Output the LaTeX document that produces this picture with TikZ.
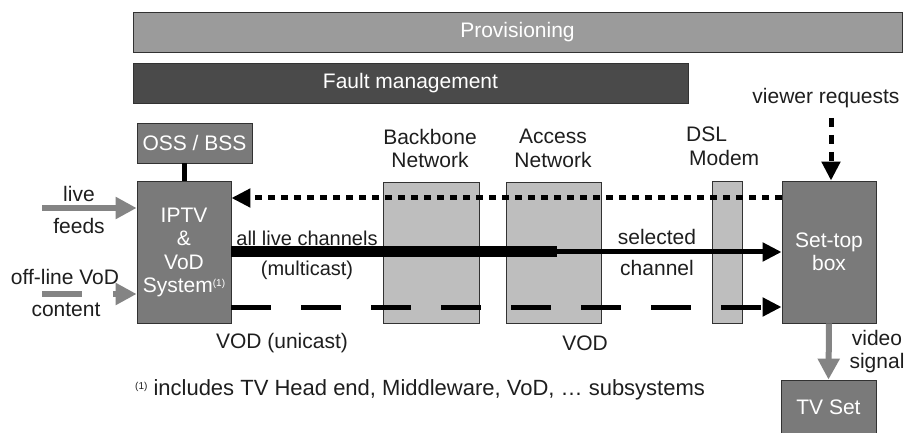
\documentclass[tikz,border=0pt]{standalone}
\usepackage{fontspec}
\setmainfont{Liberation Sans}
\usetikzlibrary{arrows.meta}
\definecolor{boxgray}{RGB}{122,122,122}
\definecolor{netgray}{RGB}{190,190,190}
\definecolor{provgray}{RGB}{155,155,155}
\definecolor{faultgray}{RGB}{74,74,74}
\definecolor{arrgray}{RGB}{132,132,132}
\definecolor{edgegray}{RGB}{50,50,50}
\definecolor{txt}{RGB}{30,30,30}
\tikzset{
  bar/.style={draw=edgegray, line width=0.8pt, text=white, inner sep=0pt},
  darkbox/.style={draw=edgegray, line width=0.8pt, fill=boxgray, text=white, inner sep=0pt, align=center},
  netbox/.style={draw=edgegray, line width=0.8pt, fill=netgray, inner sep=0pt},
  lbl/.style={text=txt, inner sep=0pt, align=center},
  grayarrow/.style={draw=arrgray, line width=6pt, -{Triangle[length=21pt,width=21pt]}},
  blackarrow/.style={-{Triangle[length=19pt,width=18pt]}},
  smalldash/.style={line width=5pt, dash pattern=on 7pt off 6pt},
  longdash/.style={line width=5pt, dash pattern=on 40pt off 30pt},
}
\newcommand{\fnm}{\raisebox{0.55ex}{\fontsize{10}{10}\selectfont(1)}}
\begin{document}
\begin{tikzpicture}[x=1pt,y=-1pt,font=\fontsize{21}{23.5}\selectfont]
\useasboundingbox (0,0) rectangle (906,433);
\fill[white] (0,0) rectangle (906,433);

% management bars
\node[bar, fill=provgray, minimum width=769pt, minimum height=40pt] (prov) at (517.5,32) {Provisioning};
\node[bar, fill=faultgray, minimum width=555pt, minimum height=40pt] (fault) at (410.5,83) {Fault management};

% main boxes
\node[darkbox, minimum width=115pt, minimum height=40pt] (oss) at (194.5,143) {OSS / BSS};
\node[darkbox, minimum width=94pt, minimum height=142pt] (iptv) at (184,252) {};
\node[lbl, text=white] (iptvtxt) at (184,252.5) {IPTV\\\&\\VoD\\System\fnm};
\node[netbox, minimum width=96pt, minimum height=141pt] (backbone) at (431,252.5) {};
\node[netbox, minimum width=95pt, minimum height=141pt] (access) at (554,252.5) {};
\node[netbox, minimum width=30pt, minimum height=142pt] (dsl) at (727,252) {};
\node[darkbox, minimum width=94pt, minimum height=142pt] (stb) at (829,252) {Set-top\\box};
\node[darkbox, minimum width=95pt, minimum height=54pt] (tv) at (828.5,407) {TV Set};

% labels
\node[lbl] (bbl) at (430,148.5) {Backbone\\Network};
\node[lbl] (acl) at (553,148.5) {Access\\Network};
\node[lbl, align=left, anchor=west] (dsll) at (686,146.5) {DSL\\\hspace*{3pt}Modem};
\node[lbl] (vrl) at (826,98) {viewer requests};
\node[lbl] (livel) at (79,194) {live};
\node[lbl] (feedl) at (79,226) {feeds};
\node[lbl] (offl) at (65,277) {off-line VoD};
\node[lbl] (contl) at (66,310) {content};
\node[lbl, font=\fontsize{20}{23}\selectfont] (alll) at (307,238) {all live channels};
\node[lbl, font=\fontsize{20}{23}\selectfont] (mcl) at (307,270) {(multicast)};
\node[lbl] (sell) at (657,237) {selected};
\node[lbl] (chl) at (657,268) {channel};
\node[lbl] (vodul) at (282,343) {VOD (unicast)};
\node[lbl] (vodl) at (585,343) {VOD};
\node[lbl] (vsl) at (877,351.5) {video\\signal};
\node[lbl, anchor=west, font=\fontsize{22}{24}\selectfont] (fn) at (135,390) {\fnm\ includes TV Head end, Middleware, VoD, … subsystems};

% connectors
\draw[line width=5pt] (iptv.north) -- (iptv.north |- oss.south);

\draw[smalldash, blackarrow] ([yshift=54pt]stb.west) -- ([yshift=54pt]iptv.east);

\coordinate (mcend) at (557,252);
\draw[line width=11pt] (iptv.east) -- (mcend);
\draw[line width=5pt, blackarrow] (mcend) -- (stb.west);

\draw[longdash, blackarrow] ([yshift=-55pt]iptv.east) -- ([yshift=-55pt]stb.west);

\coordinate (vrtop) at (831,118);
\draw[line width=5pt, dash pattern=on 9pt off 8pt, blackarrow] (vrtop) -- (vrtop |- stb.north);

\coordinate (livestart) at (42,208);
\draw[grayarrow] (livestart) -- (livestart -| iptv.west);

\coordinate (offstart) at (42,294);
\coordinate (offgap) at (82,294);
\coordinate (offhead) at (113,294);
\draw[draw=arrgray, line width=6pt] (offstart) -- (offgap);
\draw[grayarrow] (offhead) -- (offhead -| iptv.west);

\draw[grayarrow] (stb.south) -- (tv.north);
\end{tikzpicture}
\end{document}
